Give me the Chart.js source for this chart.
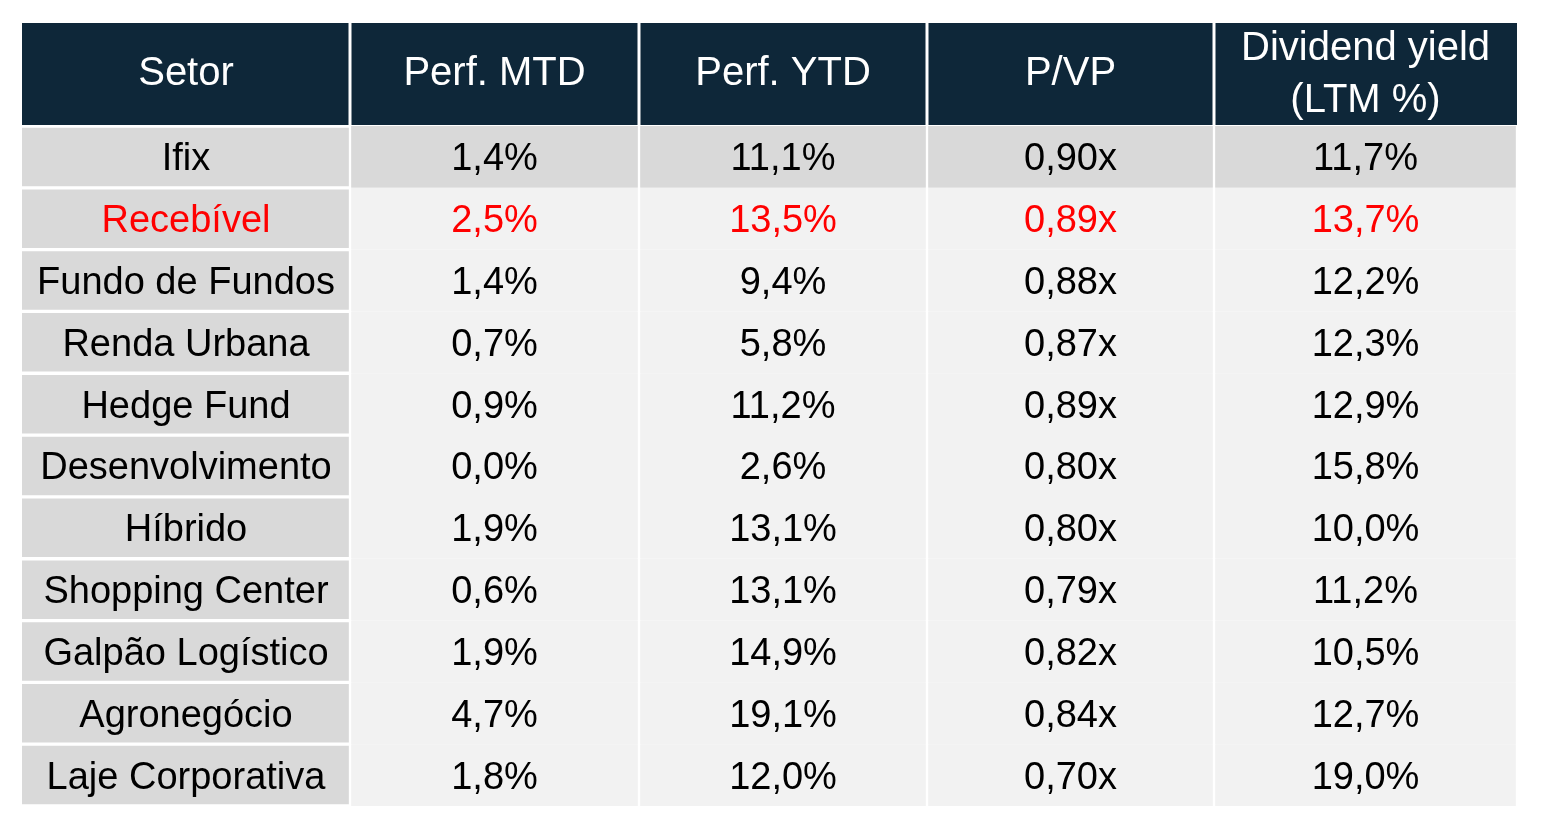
<!DOCTYPE html>
<html>
<head>
    <meta charset="utf-8">
    <title>Setores FII</title>
    <script src="https://cdn.jsdelivr.net/npm/chart.js"></script>
    <style>
        body { margin: 0; background: #ffffff; }
        #tabela-container { width: 1544px; height: 824px; }
    </style>
</head>
<body>
    <div id="tabela-container">
        <canvas id="tabela"></canvas>
    </div>

    <script>
        // Dados da tabela
        var headers = ['Setor', 'Perf. MTD', 'Perf. YTD', 'P/VP', ['Dividend yield', '(LTM %)']];
        var sectors = ['Ifix', 'Recebível', 'Fundo de Fundos', 'Renda Urbana', 'Hedge Fund',
                       'Desenvolvimento', 'Híbrido', 'Shopping Center', 'Galpão Logístico',
                       'Agronegócio', 'Laje Corporativa'];
        var perfMtd = [1.4, 2.5, 1.4, 0.7, 0.9, 0.0, 1.9, 0.6, 1.9, 4.7, 1.8];
        var perfYtd = [11.1, 13.5, 9.4, 5.8, 11.2, 2.6, 13.1, 13.1, 14.9, 19.1, 12.0];
        var pvp = [0.90, 0.89, 0.88, 0.87, 0.89, 0.80, 0.80, 0.79, 0.82, 0.84, 0.70];
        var dividendYield = [11.7, 13.7, 12.2, 12.3, 12.9, 15.8, 10.0, 11.2, 10.5, 12.7, 19.0];
        var benchmark = 'Ifix';
        var highlight = 'Recebível';

        // Layout (larguras das colunas, cores)
        var colWidths = [328, 289, 288, 287, 303];
        var headerHeight = 103;
        var navy = '#0e2739';
        var grayDark = '#d9d9d9';
        var grayLight = '#f2f2f2';

        function pct(v) { return v.toFixed(1).replace('.', ',') + '%'; }
        function mult(v) { return v.toFixed(2).replace('.', ',') + 'x'; }

        var columns = [
            sectors,
            perfMtd.map(pct),
            perfYtd.map(pct),
            pvp.map(mult),
            dividendYield.map(pct)
        ];

        var edges = [0];
        colWidths.forEach(function(w) { edges.push(edges[edges.length - 1] + w); });

        var datasets = columns.map(function(col, c) {
            return {
                label: Array.isArray(headers[c]) ? headers[c].join(' ') : headers[c],
                data: sectors.map(function() { return [edges[c], edges[c + 1]]; }),
                backgroundColor: sectors.map(function(s) {
                    return (c === 0 || s === benchmark) ? grayDark : grayLight;
                }),
                borderColor: '#ffffff',
                borderWidth: c === 0
                    ? { top: 2, bottom: 2, left: 0, right: 1.5 }
                    : { top: 0, bottom: 0, left: 1.5, right: 1.5 },
                borderSkipped: false,
                barPercentage: 1,
                categoryPercentage: 1,
                grouped: false
            };
        });

        // Cabeçalho desenhado acima da área do gráfico
        var headerPlugin = {
            id: 'header',
            beforeDatasetsDraw: function(chart) {
                var ctx = chart.ctx;
                var x = chart.scales.x;
                var top = chart.chartArea.top - headerHeight;
                ctx.save();
                for (var c = 0; c < headers.length; c++) {
                    var x0 = x.getPixelForValue(edges[c]);
                    var x1 = x.getPixelForValue(edges[c + 1]);
                    var l = c === 0 ? x0 : x0 + 1.5;
                    var r = c === headers.length - 1 ? x1 : x1 - 1.5;
                    ctx.fillStyle = navy;
                    ctx.fillRect(l, top, r - l, headerHeight - 1);
                    ctx.fillStyle = '#ffffff';
                    ctx.font = '40px "Liberation Sans", Arial, sans-serif';
                    ctx.textAlign = 'center';
                    ctx.textBaseline = 'middle';
                    var cx = (x0 + x1) / 2;
                    if (Array.isArray(headers[c])) {
                        ctx.fillText(headers[c][0], cx, top + 26);
                        ctx.fillText(headers[c][1], cx, top + 78);
                    } else {
                        ctx.fillText(headers[c], cx, top + headerHeight / 2 - 1);
                    }
                }
                ctx.restore();
            }
        };

        // Textos das células
        var cellTextPlugin = {
            id: 'cellText',
            afterDatasetsDraw: function(chart) {
                var ctx = chart.ctx;
                ctx.save();
                ctx.font = '38px "Liberation Sans", Arial, sans-serif';
                ctx.textAlign = 'center';
                ctx.textBaseline = 'middle';
                columns.forEach(function(col, c) {
                    var meta = chart.getDatasetMeta(c);
                    meta.data.forEach(function(bar, r) {
                        ctx.fillStyle = sectors[r] === highlight ? '#ff0000' : '#000000';
                        ctx.fillText(col[r], (bar.x + bar.base) / 2, bar.y + 3);
                    });
                });
                ctx.restore();
            }
        };

        new Chart(document.getElementById('tabela'), {
            type: 'bar',
            data: {
                labels: sectors,
                datasets: datasets
            },
            options: {
                indexAxis: 'y',
                responsive: true,
                maintainAspectRatio: false,
                animation: false,
                layout: {
                    padding: { left: 22, right: 27, top: 126, bottom: 18 }
                },
                plugins: {
                    legend: { display: false },
                    tooltip: { enabled: false }
                },
                scales: {
                    x: { type: 'linear', min: 0, max: edges[edges.length - 1], display: false },
                    y: { type: 'category', display: false }
                }
            },
            plugins: [headerPlugin, cellTextPlugin]
        });
    </script>
</body>
</html>
